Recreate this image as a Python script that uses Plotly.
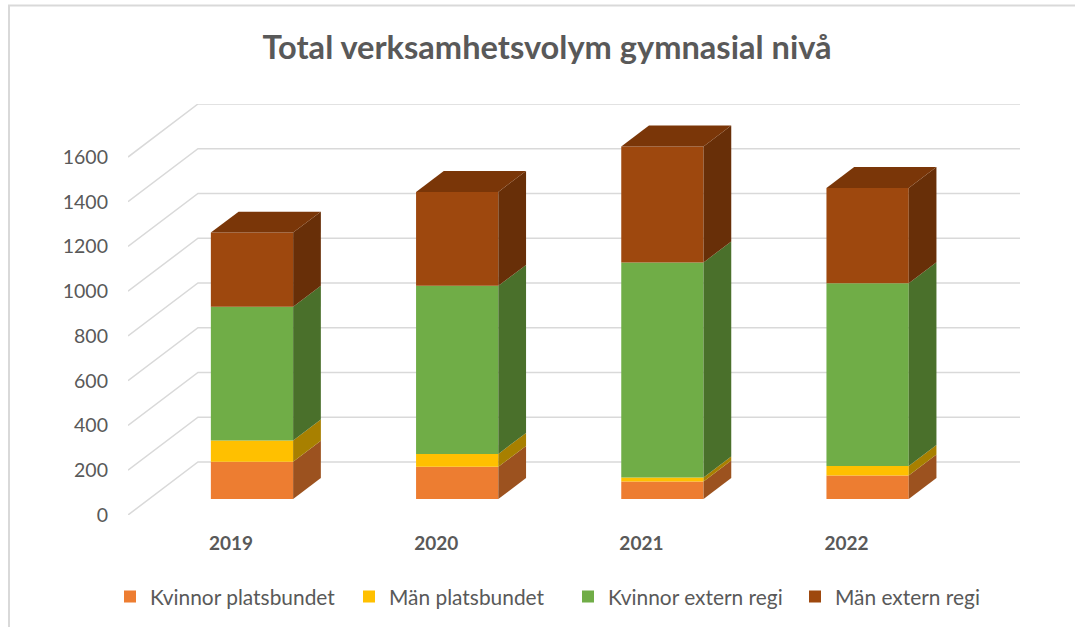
import plotly.graph_objects as go

years = ["2019", "2020", "2021", "2022"]
kvinnor_platsbundet = [167, 144, 79, 105]
man_platsbundet = [95, 58, 18, 43]
kvinnor_extern = [598, 751, 961, 817]
man_extern = [331, 420, 518, 425]
y_ticks = [0, 200, 400, 600, 800, 1000, 1200, 1400, 1600]

series = [
    ("Kvinnor platsbundet", kvinnor_platsbundet, "#ED7D31", "#9C521F"),
    ("Män platsbundet", man_platsbundet, "#FFC000", "#A88000"),
    ("Kvinnor extern regi", kvinnor_extern, "#70AD47", "#4A702B"),
    ("Män extern regi", man_extern, "#9E480E", "#682F08"),
]
legend_swatch_px = [123, 362, 581, 808]
TOP_COLOR = "#7A3608"
TEXT = "#595959"
GRID = "#D9D9D9"
FONT = "Lato, Open Sans, sans-serif"

# Oblique projection of the depth axis, in data units per full floor depth
DEPTH_X = 0.341
DEPTH_Y = 237
BAR_FRONT = 0.30
BAR_BACK = 0.696
BAR_WIDTH = 0.401
X_RANGE = [-0.502, 3.845]
Y_RANGE = [0, 1837]

L, R, T, B = 128, 55, 104, 112
W, H = 1075, 627
pw, ph = W - L - R, H - T - B
fx = lambda px: (px - L) / pw
fy = lambda px: (H - B - px) / ph


def proj(x, v, d):
    return x + d * DEPTH_X, v + d * DEPTH_Y


fig = go.Figure()
cum = [0] * len(years)
legends = {}
for k, (name, vals, front, side) in enumerate(series):
    key = "legend" if k == 0 else f"legend{k + 1}"
    legends[key] = dict(
        orientation="h", xref="container", yref="container",
        x=(legend_swatch_px[k] - 13) / W, xanchor="left",
        y=1 - 597 / H, yanchor="middle", bgcolor="rgba(0,0,0,0)",
        font=dict(size=20.9, color=TEXT, family=FONT))
    fig.add_trace(go.Bar(
        name=name, legend=key,
        x=[proj(i, 0, BAR_FRONT)[0] for i in range(len(years))],
        y=vals,
        base=[proj(0, c, BAR_FRONT)[1] for c in cum],
        width=BAR_WIDTH,
        marker=dict(color=front, line=dict(width=0)),
        hoverinfo="name+y",
    ))
    for i, (c, v) in enumerate(zip(cum, vals)):
        xr = i + BAR_WIDTH / 2
        pts = [proj(xr, c, BAR_FRONT), proj(xr, c, BAR_BACK),
               proj(xr, c + v, BAR_BACK), proj(xr, c + v, BAR_FRONT)]
        fig.add_trace(go.Scatter(
            x=[p[0] for p in pts], y=[p[1] for p in pts], mode="lines",
            fill="toself", fillcolor=side, line=dict(width=0),
            showlegend=False, hoverinfo="skip"))
    cum = [c + v for c, v in zip(cum, vals)]

for i, c in enumerate(cum):
    xl, xr = i - BAR_WIDTH / 2, i + BAR_WIDTH / 2
    pts = [proj(xl, c, BAR_FRONT), proj(xl, c, BAR_BACK),
           proj(xr, c, BAR_BACK), proj(xr, c, BAR_FRONT)]
    fig.add_trace(go.Scatter(
        x=[p[0] for p in pts], y=[p[1] for p in pts], mode="lines",
        fill="toself", fillcolor=TOP_COLOR, line=dict(width=0),
        showlegend=False, hoverinfo="skip"))

shapes = []
for t in y_ticks:
    bx, by = proj(X_RANGE[0], t, 1)
    shapes.append(dict(
        type="path", xref="x", yref="y", layer="below",
        path=f"M {X_RANGE[0]} {t} L {bx} {by} L {X_RANGE[1]} {by}",
        line=dict(color=GRID, width=1.5)))

# Chart-frame border, expressed in paper fractions
shapes.append(dict(type="path", xref="paper", yref="paper", layer="below",
                   path=f"M {fx(9)} {fy(627)} L {fx(9)} {fy(5.5)} L {fx(1075)} {fy(5.5)}",
                   line=dict(color=GRID, width=2)))

fig.update_layout(
    width=W, height=H,
    margin=dict(l=L, r=R, t=T, b=B, pad=0),
    paper_bgcolor="white", plot_bgcolor="rgba(0,0,0,0)",
    barmode="overlay",
    font=dict(family=FONT, color=TEXT),
    title=dict(text="<b>Total verksamhetsvolym gymnasial nivå</b>",
               x=547 / W, xref="container", xanchor="center",
               y=1 - 48 / H, yanchor="middle",
               font=dict(size=32.6, family=FONT, color=TEXT)),
    xaxis=dict(range=X_RANGE, tickmode="array", tickvals=list(range(len(years))),
               ticktext=years, showgrid=False, zeroline=False, showline=False,
               ticks="", ticklabelstandoff=15,
               tickfont=dict(size=19, weight=700, color=TEXT, family=FONT)),
    yaxis=dict(range=Y_RANGE, tickmode="array", tickvals=y_ticks,
               showgrid=False, zeroline=False, showline=False, ticks="",
               ticklabelstandoff=19,
               tickfont=dict(size=19.5, color=TEXT, family=FONT)),
    shapes=shapes,
    **legends,
)
fig.write_html("out.html", post_script="document.body.style.margin='0';",
               config=dict(displayModeBar=False))
